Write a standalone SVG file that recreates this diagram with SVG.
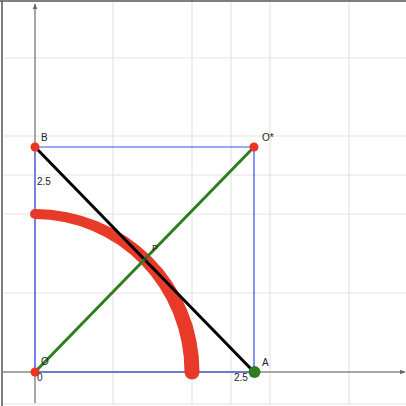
<svg xmlns="http://www.w3.org/2000/svg" width="406" height="406" viewBox="0 0 406 406">
<style>
.grid{stroke:#e4e4e4;stroke-width:1.2;fill:none}
.axis{stroke:#8a8a8a;stroke-width:1.5;fill:none}
.lbl{font-family:"Liberation Sans",Arial,sans-serif;font-size:10px;fill:#222}
.red{fill:#e83a28}
</style>
<defs>
<marker id="ah" viewBox="0 0 10 10" refX="9" refY="5" markerWidth="6" markerHeight="6" orient="auto" markerUnits="userSpaceOnUse">
<path d="M0,1 L10,5 L0,9 Z" fill="#666"/>
</marker>
</defs>
<rect x="0" y="0" width="406" height="406" fill="#fff"/>
<g id="grid">
<path class="grid" d="M113,0V404M192,0V404M231,0V404M270,0V404M349,0V404M3,58H406M3,136H406M3,175H406M3,214H406M3,293H406"/>
</g>
<g id="frame">
<line x1="2" y1="1" x2="2" y2="406" stroke="#555" stroke-width="1.5"/>
<line x1="0" y1="1" x2="406" y2="1" stroke="#555" stroke-width="1.5"/>
<line x1="3" y1="404" x2="406" y2="404" stroke="#e0e0e0" stroke-width="1.2"/>
</g>
<g id="axes">
<line class="axis" x1="35" y1="403" x2="35" y2="4" marker-end="url(#ah)"/>
<line class="axis" x1="3" y1="372" x2="405" y2="372" marker-end="url(#ah)"/>
</g>
<g id="connectors">
<path d="M35,372H254V147H35Z" fill="none" stroke="#3a4cf0" stroke-width="1.2"/>
<line x1="35" y1="372" x2="35" y2="147" stroke="#7f86ee" stroke-width="1.5"/>
<g id="locus">
<path class="red" d="M35,209 A164.5,163 0 0 1 199.5,372 L184.5,372 A149.5,153 0 0 0 35,219 Z"/>
<circle class="red" cx="35" cy="214" r="5"/>
<circle class="red" cx="192" cy="372" r="7.5"/>
</g>
<line x1="35" y1="147" x2="254" y2="372" stroke="#000" stroke-width="3"/>
<line x1="35" y1="372" x2="254" y2="147" stroke="#2e7d1f" stroke-width="3"/>
</g>
<g id="node-B"><circle cx="35" cy="147" r="4.5" fill="#ee3322"/><text class="lbl" x="41" y="141">B</text></g>
<g id="node-Ostar"><circle cx="254" cy="147" r="4.5" fill="#ee3322"/><text class="lbl" x="262" y="141">O*</text></g>
<g id="node-O"><circle cx="35" cy="372" r="4.5" fill="#ee3322"/><text class="lbl" x="41" y="365">O</text></g>
<g id="node-A"><circle cx="254.5" cy="372" r="6" fill="#2e7d1f"/><text class="lbl" x="262" y="366">A</text></g>
<g id="node-P"><circle cx="145" cy="259" r="1.5" fill="#333"/><text class="lbl" x="152" y="251" style="font-size:9px">P</text></g>
<g id="ticks">
<text class="lbl" x="37" y="185">2.5</text>
<text class="lbl" x="37" y="381">0</text>
<text class="lbl" x="234" y="381">2.5</text>
</g>
</svg>
